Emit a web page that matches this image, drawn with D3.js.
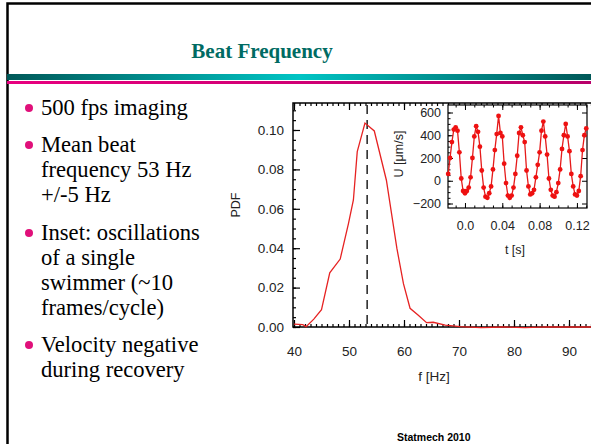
<!DOCTYPE html>
<html>
<head>
<meta charset="utf-8">
<title>Beat Frequency</title>
<script src="https://d3js.org/d3.v7.min.js"></script>
<style>
  body { margin: 0; background: #fff; }
  text { font-family: "Liberation Sans", Arial, sans-serif; }
</style>
</head>
<body>
<script>
// ---- data ----
const freq = [40, 41.6, 42.2, 43.6, 45.0, 46.5, 48.4, 49.9, 50.8, 51.5, 52.9, 54.6, 56.8, 58.7, 59.9, 61.1, 62.6, 64.1, 65.3, 67.5, 70.2, 74, 78, 82, 86, 90, 100];
const pdf  = [0.0015, 0.0012, 0.0002, 0.004, 0.0088, 0.0275, 0.0345, 0.0525, 0.0645, 0.089, 0.1035, 0.0995, 0.0745, 0.040, 0.022, 0.0095, 0.006, 0.0022, 0.0024, 0.001, 0.0002, -0.0003, 0.0, -0.0003, 0.0001, 0, 0];
const meanFreq = 53.3;

const insetT0 = -0.018, insetDt = 0.002;   // 500 fps
const velocity = [60, 200, 340, 450, 470, 440, 250, 20, -90, -110, -90, -60, 30, 200, 390, 480, 430, 300, 90, -60,
  -140, -150, -110, -50, 100, 270, 410, 570, 420, 390, 150, -20, -130, -150, -130, -60, 60, 220, 420, 470,
  400, 340, 90, -50, -120, -110, -80, 30, 140, 250, 440, 520, 390, 230, 20, -80, -130, -140, -100, -20,
  100, 280, 400, 500, 390, 260, 60, -50, -120, -130, -90, 40, 270, 400, 460];

const xTicks = [40, 50, 60, 70, 80, 90];
const yTicks = [0, 0.02, 0.04, 0.06, 0.08, 0.10];
const insetXTicks = [0, 0.04, 0.08, 0.12];
const insetXLabels = ['0.0', '0.04', '0.08', '0.12'];
const insetYTicks = [-200, 0, 200, 400, 600];

const bullets = [
  ['500 fps imaging'],
  ['Mean beat', 'frequency 53 Hz', '+/-5 Hz'],
  ['Inset: oscillations', 'of a single', 'swimmer (~10', 'frames/cycle)'],
  ['Velocity negative', 'during recovery']
];
const bulletTops = [115, 152, 240, 352];

const W = 591, H = 444;
const svg = d3.select('body').append('svg').attr('width', W).attr('height', H);

// ---- slide decoration ----
const defs = svg.append('defs');
const g1 = defs.append('linearGradient').attr('id', 'teal');
g1.append('stop').attr('offset', '0%').attr('stop-color', '#005858');
g1.append('stop').attr('offset', '50%').attr('stop-color', '#00c4c4');
g1.append('stop').attr('offset', '100%').attr('stop-color', '#005858');
const g2 = defs.append('linearGradient').attr('id', 'mag');
g2.append('stop').attr('offset', '0%').attr('stop-color', '#e8007f');
g2.append('stop').attr('offset', '100%').attr('stop-color', '#b8006a');

svg.append('path').attr('d', `M7.5,${H} V3.5 H${W}`)
  .attr('fill', 'none').attr('stroke', '#000').attr('stroke-width', 2.5);
svg.append('rect').attr('x', 7).attr('y', 74).attr('width', W - 7).attr('height', 6).attr('fill', 'url(#teal)');
svg.append('rect').attr('x', 7).attr('y', 81).attr('width', W - 7).attr('height', 3).attr('fill', 'url(#mag)');

svg.append('text').attr('x', 262).attr('y', 58).attr('text-anchor', 'middle')
  .style('font-family', '"Liberation Serif", "DejaVu Serif", serif').style('font-weight', 'bold')
  .style('font-size', '21px').attr('fill', '#006b63').text('Beat Frequency');

// bullets
bullets.forEach((lines, i) => {
  svg.append('circle').attr('cx', 29).attr('cy', bulletTops[i] - 7).attr('r', 4).attr('fill', '#e0107a');
  lines.forEach((l, j) => {
    svg.append('text').attr('x', 41).attr('y', bulletTops[i] + j * 25)
      .style('font-family', '"Liberation Serif", "Times New Roman", serif')
      .style('font-size', '22.6px').attr('fill', '#000').text(l);
  });
});

svg.append('text').attr('x', 397).attr('y', 441)
  .style('font-size', '10.5px').style('font-weight', 'bold').attr('fill', '#000').text('Statmech 2010');

// ---- main plot ----
const pL = 293, pT = 103, pR = 624, pB = 327;
const x = d3.scaleLinear().domain([40, 100]).range([294, 624]);
const y = d3.scaleLinear().domain([0, 0.1137]).range([pB, pT]);

const main = svg.append('g');
main.append('rect').attr('x', pL).attr('y', pT).attr('width', pR - pL).attr('height', pB - pT)
  .attr('fill', '#fff').attr('stroke', '#000').attr('stroke-width', 1.5);

function tickAxis(axis, tr, size, values, fmt, pad) {
  const g = main.append('g').attr('transform', tr)
    .call(axis.tickValues(values).tickSize(size).tickPadding(pad).tickFormat(fmt));
  g.select('.domain').remove();
  g.selectAll('line').attr('stroke', '#000').attr('stroke-width', 1.2);
  g.selectAll('text').style('font-size', '13.5px').attr('fill', '#222');
  return g;
}
const xMinor = d3.range(40, 101, 1);
const yMinor = d3.range(0, 0.1137, 0.005);
tickAxis(d3.axisBottom(x), `translate(0,${pB})`, -7, xTicks, d3.format('d'), 19);
tickAxis(d3.axisBottom(x), `translate(0,${pB})`, -3, xMinor, '', 0);
tickAxis(d3.axisTop(x), `translate(0,${pT})`, -7, xTicks, '', 0);
tickAxis(d3.axisTop(x), `translate(0,${pT})`, -3, xMinor, '', 0);
tickAxis(d3.axisLeft(y), `translate(${pL},0)`, -7, yTicks, d3.format('.2f'), 9);
tickAxis(d3.axisLeft(y), `translate(${pL},0)`, -3, yMinor, '', 0);

main.append('line').attr('x1', x(meanFreq)).attr('x2', x(meanFreq)).attr('y1', pT + 2).attr('y2', pB)
  .attr('stroke', '#222').attr('stroke-width', 1.5).attr('stroke-dasharray', '9,6');

main.append('path').datum(d3.zip(freq, pdf))
  .attr('d', d3.line().x(d => x(d[0])).y(d => y(d[1])))
  .attr('fill', 'none').attr('stroke', '#e62222').attr('stroke-width', 1.3);

main.append('text').attr('transform', `translate(240,205) rotate(-90)`).attr('text-anchor', 'middle')
  .style('font-size', '12.5px').attr('fill', '#222').text('PDF');
main.append('text').attr('x', 434).attr('y', 381).attr('text-anchor', 'middle')
  .style('font-size', '13.5px').attr('fill', '#222').text('f [Hz]');

// ---- inset ----
const iL = 448, iT = 105, iR = 587, iB = 208;
const ix = d3.scaleLinear().domain([-0.0182, 0.1308]).range([iL, iR]);
const iy = d3.scaleLinear().domain([-200, 600]).range([203.5, 112.5]);
const inset = svg.append('g');
inset.append('rect').attr('x', iL).attr('y', iT).attr('width', iR - iL).attr('height', iB - iT)
  .attr('fill', '#fff').attr('stroke', '#000').attr('stroke-width', 1.2);

function insetAxis(axis, tr, size, values, fmt, pad) {
  const g = inset.append('g').attr('transform', tr)
    .call(axis.tickValues(values).tickSize(size).tickPadding(pad).tickFormat(fmt));
  g.select('.domain').remove();
  g.selectAll('line').attr('stroke', '#000').attr('stroke-width', 1);
  g.selectAll('text').style('font-size', '12.5px').attr('fill', '#222');
  return g;
}
const ixMinor = d3.range(-0.01, 0.131, 0.01);
const iyMinor = d3.range(-200, 601, 50);
insetAxis(d3.axisBottom(ix), `translate(0,${iB})`, -5, insetXTicks, (d, i) => insetXLabels[i], 13);
insetAxis(d3.axisBottom(ix), `translate(0,${iB})`, -2.5, ixMinor, '', 0);
insetAxis(d3.axisTop(ix), `translate(0,${iT})`, -5, insetXTicks, '', 0);
insetAxis(d3.axisTop(ix), `translate(0,${iT})`, -2.5, ixMinor, '', 0);
insetAxis(d3.axisLeft(iy), `translate(${iL},0)`, -5, insetYTicks, d3.format('d'), 7);
insetAxis(d3.axisLeft(iy), `translate(${iL},0)`, -2.5, iyMinor, '', 0);
insetAxis(d3.axisRight(iy), `translate(${iR},0)`, -5, insetYTicks, '', 0);

const pts = velocity.map((v, i) => [insetT0 + i * insetDt, v]);
inset.append('path').datum(pts)
  .attr('d', d3.line().x(d => ix(d[0])).y(d => iy(d[1])))
  .attr('fill', 'none').attr('stroke', '#e61a1a').attr('stroke-width', 1.3);
inset.selectAll('circle.pt').data(pts).join('circle').attr('class', 'pt')
  .attr('cx', d => ix(d[0])).attr('cy', d => iy(d[1])).attr('r', 2.4).attr('fill', '#ee1111');

inset.append('text').attr('transform', `translate(403,154) rotate(-90)`).attr('text-anchor', 'middle')
  .style('font-size', '12.5px').attr('fill', '#222').text('U [μm/s]');
inset.append('text').attr('x', 515).attr('y', 254).attr('text-anchor', 'middle')
  .style('font-size', '12.5px').attr('fill', '#222').text('t [s]');
</script>
</body>
</html>
